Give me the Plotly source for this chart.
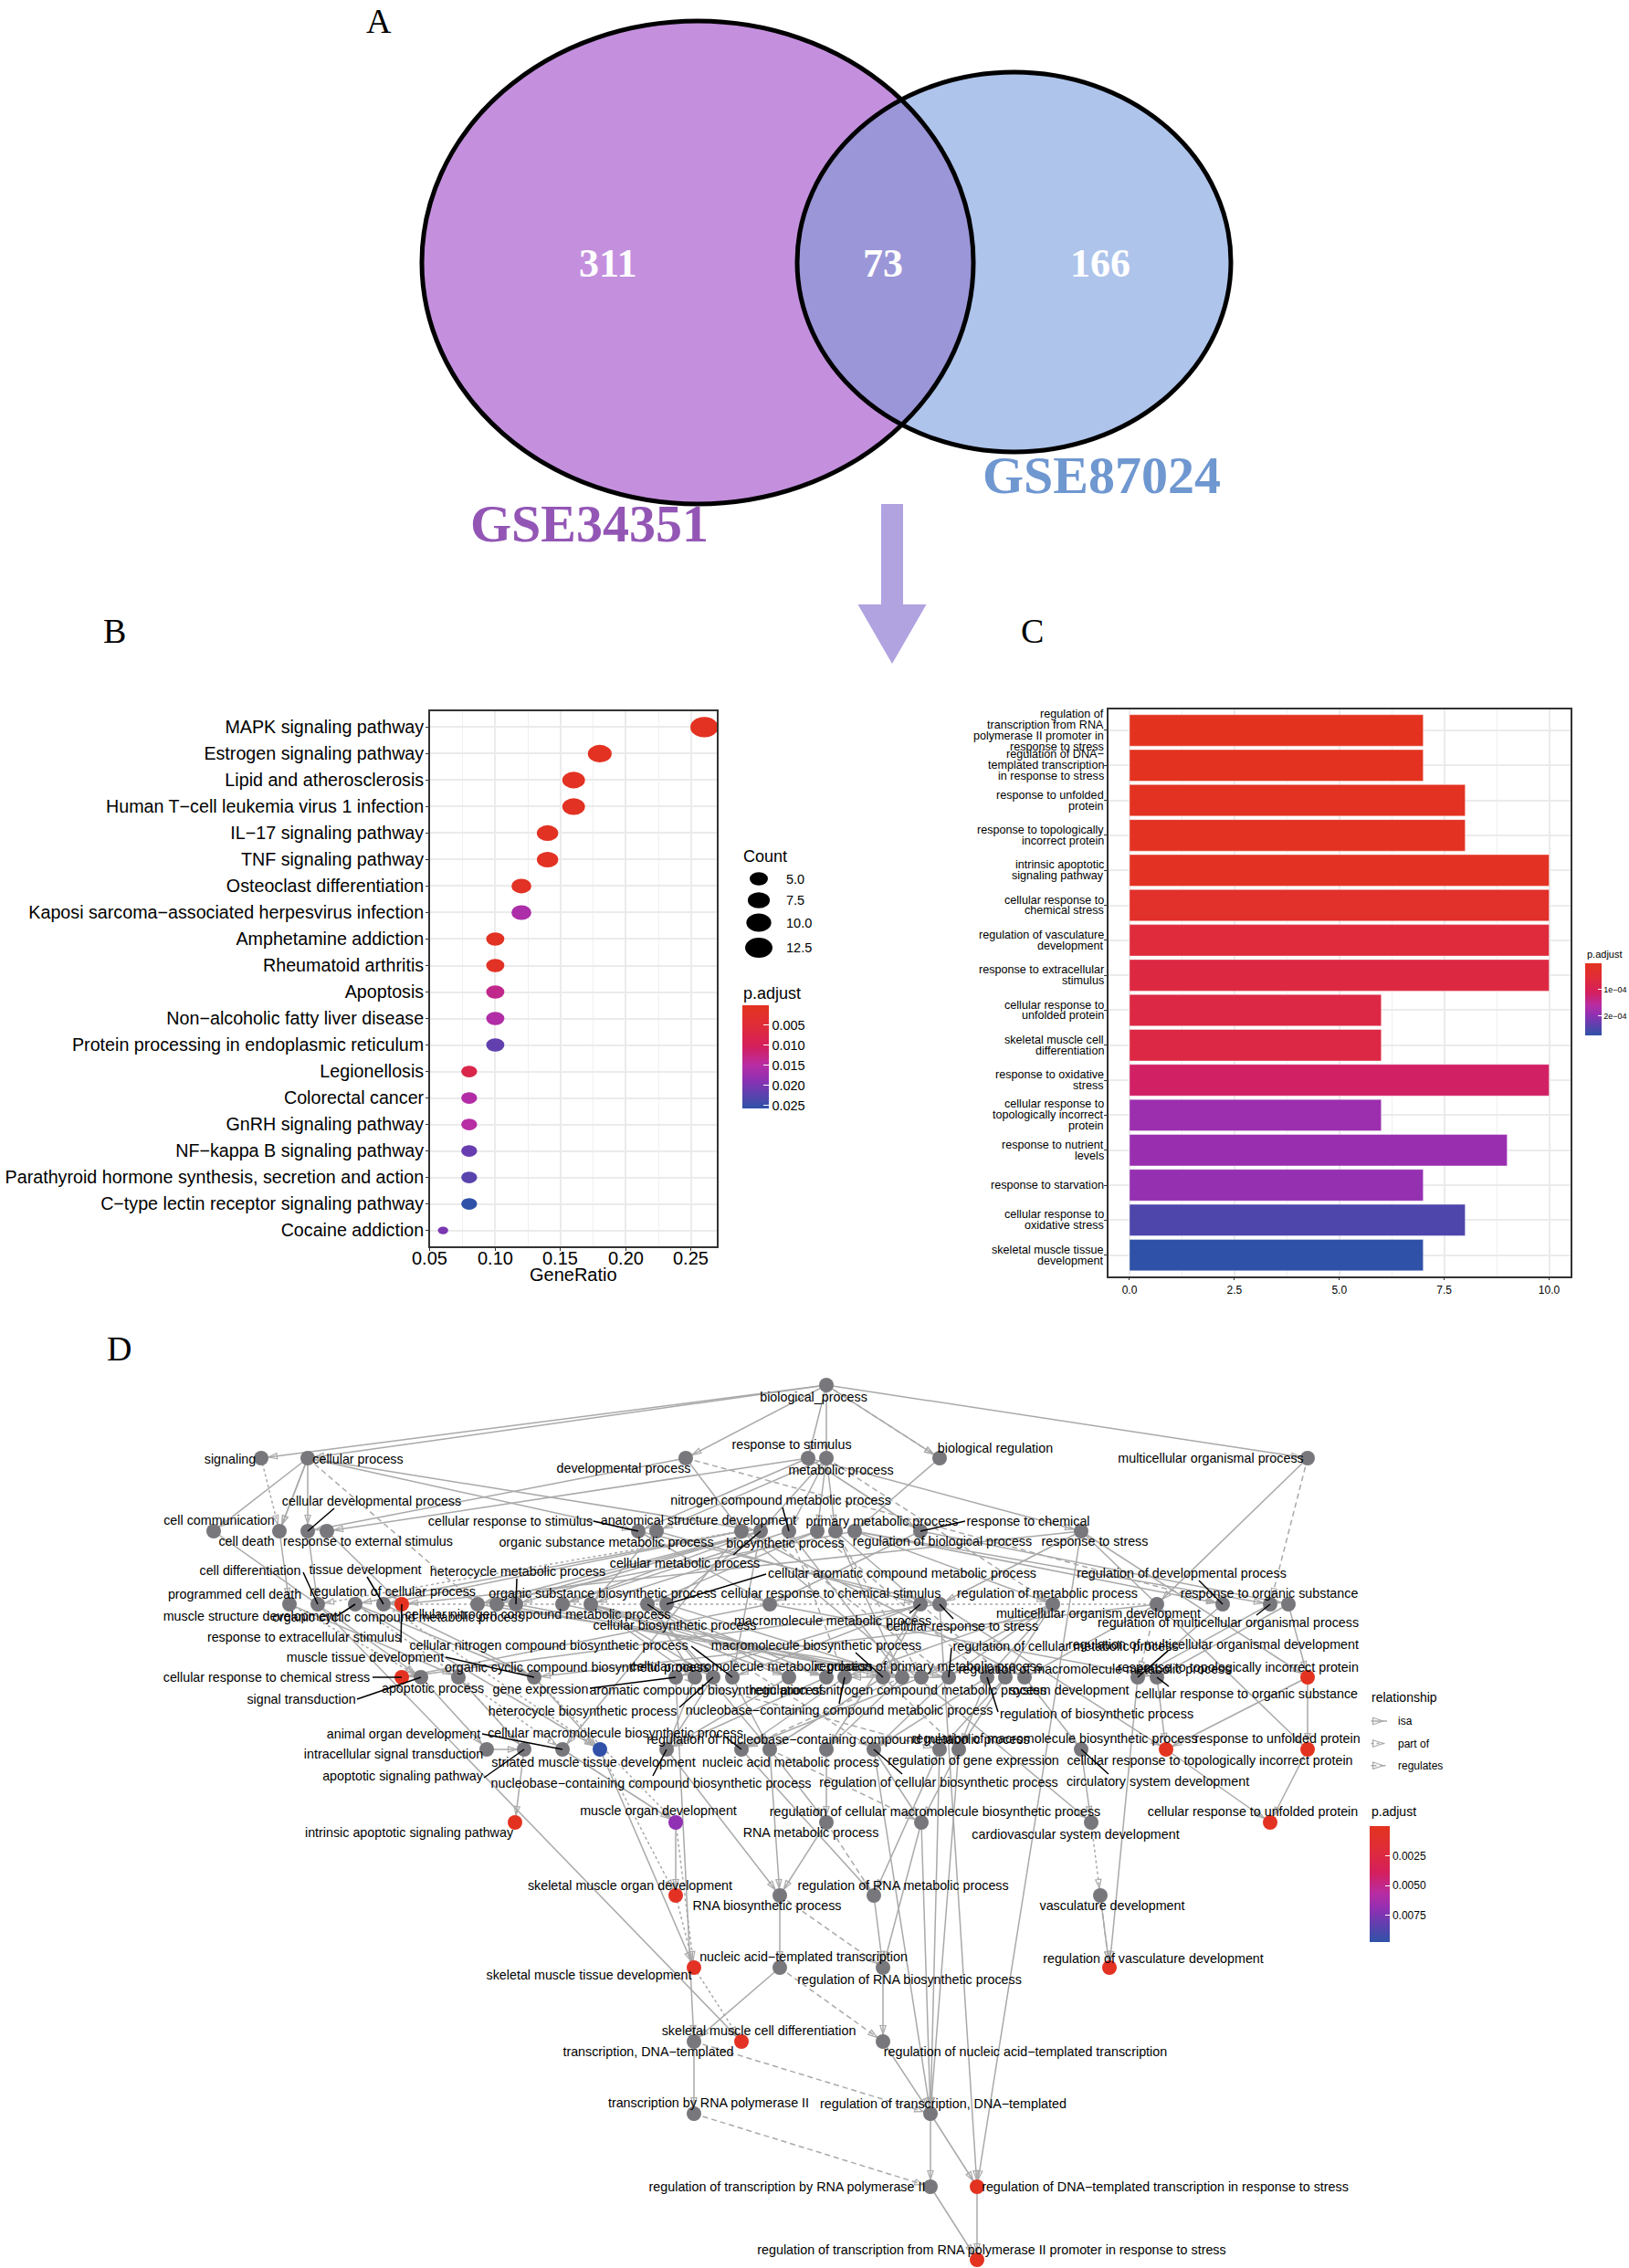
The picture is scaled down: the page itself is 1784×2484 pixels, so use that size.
import math
import numpy as np
import plotly.graph_objects as go
from plotly.colors import sample_colorscale

W, H = 1784, 2484
SANS = "Liberation Sans"
SERIF = "Liberation Serif"

PADJ_SCALE = [[0, "#E3331F"], [0.2, "#E02C38"], [0.4, "#D41F5C"], [0.58, "#B82DA3"],
              [0.72, "#8F30B3"], [0.85, "#6040AE"], [1, "#2F52A8"]]
# colour axes run on -p so that the colour bars read small values at the top, as in the source
PADJ_SCALE_NEG = [[1 - s, c] for s, c in reversed(PADJ_SCALE)]

# ---------- Panel A ----------
venn_counts = ["311", "73", "166"]
venn_names = ["GSE34351", "GSE87024"]

# ---------- Panel B ----------
kegg_terms = ["MAPK signaling pathway", "Estrogen signaling pathway", "Lipid and atherosclerosis",
              "Human T−cell leukemia virus 1 infection", "IL−17 signaling pathway", "TNF signaling pathway",
              "Osteoclast differentiation", "Kaposi sarcoma−associated herpesvirus infection",
              "Amphetamine addiction", "Rheumatoid arthritis", "Apoptosis", "Non−alcoholic fatty liver disease",
              "Protein processing in endoplasmic reticulum", "Legionellosis", "Colorectal cancer",
              "GnRH signaling pathway", "NF−kappa B signaling pathway",
              "Parathyroid hormone synthesis, secretion and action", "C−type lectin receptor signaling pathway",
              "Cocaine addiction"]
kegg_ratio = [0.26, 0.18, 0.16, 0.16, 0.14, 0.14, 0.12, 0.12, 0.10, 0.10, 0.10, 0.10, 0.10,
              0.08, 0.08, 0.08, 0.08, 0.08, 0.08, 0.06]
kegg_count = [13, 9, 8, 8, 7, 7, 6, 6, 5, 5, 5, 5, 5, 4, 4, 4, 4, 4, 4, 3]
kegg_padj = [0.0004, 0.0005, 0.0008, 0.0009, 0.001, 0.001, 0.0012, 0.016, 0.001, 0.0012, 0.0134, 0.0155, 0.0218,
             0.0077, 0.0154, 0.015, 0.0213, 0.0224, 0.0257, 0.020]
count_legend = [5.0, 7.5, 10.0, 12.5]
ratio_ticks = [0.05, 0.10, 0.15, 0.20, 0.25]

# ---------- Panel C ----------
go_terms = ["regulation of\ntranscription from RNA\npolymerase II promoter in\nresponse to stress",
            "regulation of DNA−\ntemplated transcription\nin response to stress",
            "response to unfolded\nprotein", "response to topologically\nincorrect protein",
            "intrinsic apoptotic\nsignaling pathway", "cellular response to\nchemical stress",
            "regulation of vasculature\ndevelopment", "response to extracellular\nstimulus",
            "cellular response to\nunfolded protein", "skeletal muscle cell\ndifferentiation",
            "response to oxidative\nstress", "cellular response to\ntopologically incorrect\nprotein",
            "response to nutrient\nlevels", "response to starvation",
            "cellular response to\noxidative stress", "skeletal muscle tissue\ndevelopment"]
go_count = [7, 7, 8, 8, 10, 10, 10, 10, 6, 6, 10, 6, 9, 7, 8, 7]
go_padj = [1e-6, 2e-6, 5e-6, 6e-6, 8e-6, 2.7e-5, 6e-5, 7e-5, 7.3e-5, 7.3e-5, 1.14e-4, 1.85e-4, 1.87e-4, 1.9e-4,
           2.45e-4, 2.72e-4]

# ---------- Panel D: GO graph ----------
node_keys = ["bp",
             "sig", "cp", "dev", "rs", "mp", "br", "mop",
             "cc", "cd", "cdp", "rex", "crs", "osm", "asd", "cmp", "ncm", "bio", "pmp", "rbp", "rch", "rst",
             "pcd", "cdf", "msd", "td", "rexs", "rcp", "occm", "hcm", "cncm", "osb", "cb", "cacm", "crcs", "mm",
             "crst", "rm", "mod", "rdp", "rmop", "ros",
             "crcst", "st", "ap", "mtd", "ge", "occb", "hcb", "cmm", "acb", "cncb", "rncm", "mb", "ncbm", "rpm",
             "rcm", "rb", "rmm", "sd", "rmod", "cros", "rtip",
             "ist", "asp", "aod", "smtd", "ncbb", "rncbm", "cmb", "nam", "rcb", "rge", "rmb", "csd", "crtip", "ruf",
             "iasp", "mud", "rnm", "rcmb", "cvd", "cruf",
             "smod", "rnb", "rrm", "vd",
             "smtid", "natt", "rrb", "rvd",
             "tdt", "smcd", "rnat",
             "trp", "rtdt",
             "rtrp", "rdtrs",
             "rtrps"]
node_labels = ["biological_process",
               "signaling", "cellular process", "developmental process", "response to stimulus", "metabolic process",
               "biological regulation", "multicellular organismal process",
               "cell communication", "cell death", "cellular developmental process", "response to external stimulus",
               "cellular response to stimulus", "organic substance metabolic process",
               "anatomical structure development", "cellular metabolic process", "nitrogen compound metabolic process",
               "biosynthetic process", "primary metabolic process", "regulation of biological process",
               "response to chemical", "response to stress",
               "programmed cell death", "cell differentiation", "muscle structure development", "tissue development",
               "response to extracellular stimulus", "regulation of cellular process",
               "organic cyclic compound metabolic process", "heterocycle metabolic process",
               "cellular nitrogen compound metabolic process", "organic substance biosynthetic process",
               "cellular biosynthetic process", "cellular aromatic compound metabolic process",
               "cellular response to chemical stimulus", "macromolecule metabolic process",
               "cellular response to stress", "regulation of metabolic process", "multicellular organism development",
               "regulation of developmental process", "regulation of multicellular organismal process",
               "response to organic substance",
               "cellular response to chemical stress", "signal transduction", "apoptotic process",
               "muscle tissue development", "gene expression", "organic cyclic compound biosynthetic process",
               "heterocycle biosynthetic process", "cellular macromolecule metabolic process",
               "aromatic compound biosynthetic process", "cellular nitrogen compound biosynthetic process",
               "regulation of nitrogen compound metabolic process", "macromolecule biosynthetic process",
               "nucleobase−containing compound metabolic process", "regulation of primary metabolic process",
               "regulation of cellular metabolic process", "regulation of biosynthetic process",
               "regulation of macromolecule metabolic process", "system development",
               "regulation of multicellular organismal development", "cellular response to organic substance",
               "response to topologically incorrect protein",
               "intracellular signal transduction", "apoptotic signaling pathway", "animal organ development",
               "striated muscle tissue development", "nucleobase−containing compound biosynthetic process",
               "regulation of nucleobase−containing compound metabolic process",
               "cellular macromolecule biosynthetic process", "nucleic acid metabolic process",
               "regulation of cellular biosynthetic process", "regulation of gene expression",
               "regulation of macromolecule biosynthetic process", "circulatory system development",
               "cellular response to topologically incorrect protein", "response to unfolded protein",
               "intrinsic apoptotic signaling pathway", "muscle organ development", "RNA metabolic process",
               "regulation of cellular macromolecule biosynthetic process", "cardiovascular system development",
               "cellular response to unfolded protein",
               "skeletal muscle organ development", "RNA biosynthetic process", "regulation of RNA metabolic process",
               "vasculature development",
               "skeletal muscle tissue development", "nucleic acid−templated transcription",
               "regulation of RNA biosynthetic process", "regulation of vasculature development",
               "transcription, DNA−templated", "skeletal muscle cell differentiation",
               "regulation of nucleic acid−templated transcription",
               "transcription by RNA polymerase II", "regulation of transcription, DNA−templated",
               "regulation of transcription by RNA polymerase II",
               "regulation of DNA−templated transcription in response to stress",
               "regulation of transcription from RNA polymerase II promoter in response to stress"]
node_x = [905,
          286, 337, 751, 885, 905, 1029, 1432,
          234, 306, 337, 358, 699, 719, 812, 833, 864, 895, 915, 936, 1008, 1184,
          317, 348, 389, 420, 440, 523, 544, 565, 616, 647, 709, 730, 843, 1008, 1029, 1153, 1267, 1339, 1391, 1411,
          440, 461, 502, 585, 740, 761, 781, 802, 864, 905, 925, 967, 988, 1009, 1039, 1081, 1101, 1122, 1246, 1267, 1432,
          533, 574, 616, 657, 730, 812, 843, 905, 957, 1029, 1050, 1184, 1277, 1432,
          564, 740, 905, 1009, 1195, 1391,
          740, 854, 957, 1205,
          760, 854, 967, 1215,
          760, 812, 967,
          760, 1019,
          1019, 1070,
          1070]
row_y = [1517, 1597, 1677, 1757, 1837, 1916, 1996, 2076, 2155, 2236, 2315, 2395, 2475]
row_sizes = [1, 7, 14, 20, 21, 14, 6, 4, 4, 3, 2, 2, 1]
label_x = [891,
           252, 392, 683, 867, 921, 1090, 1326,
           240, 270, 407, 403, 559, 664, 765, 750, 855, 860, 966, 1032, 1126, 1199,
           257, 274, 274, 400, 333, 430, 436, 567, 589, 660, 739, 988, 910, 912, 1054, 1147, 1203, 1294, 1345, 1390,
           292, 330, 474, 400, 592, 632, 638, 823, 775, 601, 984, 894, 919, 1017, 1167, 1201, 1199, 1171, 1329, 1365, 1356,
           431, 441, 442, 650, 713, 918, 674, 866, 1028, 1066, 1155, 1268, 1325, 1399,
           448, 721, 888, 1024, 1178, 1372,
           690, 840, 989, 1218,
           645, 880, 996, 1263,
           710, 831, 1123,
           776, 1033,
           862, 1276,
           1086]
label_y = [1531,
           1599, 1599, 1609, 1583, 1611, 1587, 1598,
           1666, 1689, 1645, 1689, 1667, 1690, 1666, 1713, 1644, 1691, 1667, 1689, 1667, 1689,
           1747, 1721, 1771, 1720, 1794, 1744, 1772, 1722, 1769, 1746, 1781, 1724, 1746, 1776, 1782, 1746, 1768, 1724, 1778, 1746,
           1838, 1862, 1850, 1816, 1851, 1827, 1875, 1826, 1852, 1803, 1852, 1803, 1874, 1826, 1804, 1878, 1829, 1852, 1802, 1856, 1827,
           1922, 1946, 1900, 1931, 1954, 1906, 1899, 1931, 1953, 1929, 1905, 1952, 1929, 1905,
           2008, 1984, 2008, 1985, 2010, 1985,
           2066, 2088, 2066, 2088,
           2164, 2144, 2169, 2146,
           2248, 2225, 2248,
           2304, 2305,
           2396, 2396,
           2465]

colored_nodes = ["rexs", "crcst", "rtip", "crtip", "ruf", "iasp", "cruf", "smod", "smtid", "rvd", "smcd",
                 "rdtrs", "rtrps", "smtd", "mud"]
colored_padj = [0.0001, 0.0001, 0.0001, 0.0001, 0.0001, 0.0001, 0.0002, 0.0003, 0.0003, 0.0002, 0.0003,
                0.0001, 0.0001, 0.0097, 0.0070]

leader_keys = ["cdp", "ncm", "crs", "rch", "cmp", "hcm", "cacm", "cdf", "td", "rdp", "msd", "cb", "mm", "crst", "rmop",
               "rexs", "mb", "rcm", "rmod", "mtd", "cmm", "crcst", "st", "ge", "hcb", "rncm", "cros", "rb", "aod",
               "rncbm", "asp", "ncbb", "rcb", "csd"]
leader_from_x = [366, 857, 650, 1057, 803, 566, 839, 332, 402, 1313, 369, 732, 996, 1044, 1376,
                 439, 937, 1042, 1279, 488, 757, 408, 391, 646, 744, 919, 1280, 1093, 528,
                 794, 530, 715, 988, 1214]
leader_from_y = [1652, 1651, 1666, 1666, 1703, 1729, 1724, 1722, 1727, 1731, 1770, 1773, 1767, 1773, 1769,
                 1799, 1810, 1805, 1808, 1815, 1803, 1837, 1861, 1849, 1870, 1866, 1847, 1875, 1899,
                 1902, 1947, 1945, 1943, 1943]

edges_isa = """bp sig;bp cp;bp dev;bp rs;bp mp;bp br;bp mop;cp cc;cp cd;cp cdp;cp crs;cp cmp;cp cd;dev asd;dev cdp;
rs crs;rs rex;rs rch;rs rst;mp osm;mp ncm;mp bio;mp pmp;mp cmp;br rbp;mop mod;cc st;cd pcd;pcd ap;cdp cdf;asd td;asd msd;
asd aod;asd sd;td mtd;msd mtd;msd smtd;mtd smtd;aod mud;mud smod;smtd smtid;cdf smcd;st ist;ist asp;ap asp;asp iasp;
rbp rcp;rbp rdp;rbp rmop;rbp rm;rcp rcm;rm rcm;rm rpm;rm rb;rm rmm;rm rncm;rcm rncm;rcm rcb;rb rcb;rb rmb;rmm rge;rmm rmb;
rpm rncbm;rncm rncbm;rncbm rrm;rge rrm;rrm rrb;rrb rnat;rnat rtdt;rtdt rtrp;rtrp rtrps;rtdt rdtrs;rdtrs rtrps;rmb rcmb;
rcb rcmb;rcmb rrb;rdp rmod;rmop rmod;rmod rvd;osm mm;osm osb;ncm cncm;ncm ncbm;pmp mm;pmp ncbm;cmp cncm;cmp occm;cmp hcm;
cmp cacm;cmp cmm;occm ncbm;hcm ncbm;cacm ncbm;cncm ncbm;mm cmm;mm ge;mm nam;mm mb;cmm cmb;ncbm nam;nam rnm;rnm rnb;rnb natt;
natt tdt;tdt trp;ge tdt;bio osb;bio cb;osb occb;osb hcb;osb acb;osb cncb;osb mb;cb occb;cb hcb;cb acb;cb cncb;cb cmb;mb cmb;
cncb ncbb;acb ncbb;hcb ncbb;occb ncbb;ncbb rnb;cmb rnb;rch crcs;rch ros;rst crst;rst rexs;rex rexs;crs crcs;crs crst;
crst crcst;crcs crcst;ros cros;crcs cros;rst rtip;rst ruf;ros rtip;rtip ruf;rtip crtip;crtip cruf;ruf cruf;cros crtip;
crst crtip;crst rdtrs;rst rdtrs;rmb rtdt;rcmb rtdt;rcb rtdt;rge rtdt;sd csd;csd cvd;vd rvd;asd cvd;mod mtd;mod sd;cmb rnm;cmp rcp"""
edges_part = """sig cd;cvd vd;mtd mud;smtd smod;smod smtid;smtid smcd;mud smtid;asp ap;td smtd;pcd st;msd aod;asd cdf;mod td"""
edges_reg = """bp br;dev rdp;cp rcp;mp rm;bio rb;pmp rpm;mm rmm;cmp rcm;ncm rncm;ncbm rncbm;cb rcb;mb rmb;cmb rcmb;
rnm rrm;rnb rrb;natt rnat;tdt rtdt;trp rtrp;mod rmod;mop rmop;ge rge;vd rvd"""


# ---------- helpers ----------
def px_x(v):
    return v / W


def px_y(v):
    return 1 - v / H


node_y = []
for ry, n in zip(row_y, row_sizes):
    node_y += [ry] * n
assert len(node_keys) == len(node_labels) == len(node_x) == len(node_y) == len(label_x) == len(label_y)
pos = {k: (x, y) for k, x, y in zip(node_keys, node_x, node_y)}


def parse_edges(txt):
    return [tuple(e.split()) for e in txt.replace("\n", "").split(";") if e.strip()]


def padj_colors(vals, vmin, vmax):
    return sample_colorscale(PADJ_SCALE, [(v - vmin) / (vmax - vmin) for v in vals], colortype="rgb")


def size_unit(c):
    return 3 + 5 * math.sqrt(max(c - 3, 0) / 10)


def neg(vals):
    return [-v for v in vals]


fig = go.Figure()
shapes = []
ann = []
PAGE = dict(xref="x3", yref="y3")


def text(x, y, s, size, color="black", family=SANS, xanchor="center"):
    ann.append(dict(**PAGE, x=x, y=y, text=s, showarrow=False, xanchor=xanchor, yanchor="middle",
                    font=dict(size=size, color=color, family=family)))


# ---------- Panel A: venn ----------
L = (764, 287.5, 302, 264.5)
R = (1110.5, 287, 237.5, 208)
t = np.linspace(0, 2 * np.pi, 721)
lp = np.c_[L[0] + L[2] * np.cos(t), L[1] + L[3] * np.sin(t)]
rp = np.c_[R[0] + R[2] * np.cos(t), R[1] + R[3] * np.sin(t)]
in_l = ((rp[:, 0] - L[0]) / L[2]) ** 2 + ((rp[:, 1] - L[1]) / L[3]) ** 2 <= 1
in_r = ((lp[:, 0] - R[0]) / R[2]) ** 2 + ((lp[:, 1] - R[1]) / R[3]) ** 2 <= 1
a = rp[in_l]
b = lp[in_r]
a = a[np.argsort(a[:, 1])]
b = b[np.argsort(-b[:, 1])]
lens = np.r_[a, b]
lens_path = "M" + " L".join(f"{x:.1f},{y:.1f}" for x, y in lens) + " Z"


def ell(e, **kw):
    return dict(type="circle", **PAGE, x0=e[0] - e[2], x1=e[0] + e[2], y0=e[1] - e[3], y1=e[1] + e[3], **kw)


shapes += [ell(L, fillcolor="#C490DE", line_width=0),
           ell(R, fillcolor="#AEC4EB", line_width=0),
           dict(type="path", **PAGE, path=lens_path, fillcolor="#9B96D8", line_width=0),
           ell(L, line=dict(color="black", width=5)),
           ell(R, line=dict(color="black", width=5)),
           dict(type="path", **PAGE, path="M965,552 L989,552 L989,662 L1014.5,662 L977,727 L939.5,662 L965,662 Z",
                fillcolor="#B0A3E0", line_width=0)]
for x, s in zip([666, 967, 1205], venn_counts):
    text(x, 288, f"<b>{s}</b>", 44, "white", SERIF)
text(645, 573, f"<b>{venn_names[0]}</b>", 58, "#9356B5", SERIF)
text(1206, 520, f"<b>{venn_names[1]}</b>", 58, "#6F97D0", SERIF)
for (x, y), s in zip([(415, 23), (125, 691), (1130, 691), (130, 1477)], "ABCD"):
    text(x, y, s, 38, "black", SERIF)

# ---------- Panel B ----------
kegg_y = list(range(len(kegg_terms)))
b_min, b_max = 0.0, 0.0257
b_ticks = [0.005, 0.01, 0.015, 0.02, 0.025]
fig.add_trace(go.Scatter(x=kegg_ratio, y=kegg_y, mode="markers", xaxis="x", yaxis="y", showlegend=False,
                         marker=dict(size=[3.8 * size_unit(c) * 0.733 for c in kegg_count], color=neg(kegg_padj),
                                     colorscale=PADJ_SCALE_NEG, cmin=-b_max, cmax=-b_min,
                                     colorbar=dict(x=px_x(813), xanchor="left", y=px_y(1101), yanchor="top",
                                                   thickness=28.5, thicknessmode="pixels", len=113, lenmode="pixels",
                                                   xpad=0, ypad=0, outlinewidth=0,
                                                   tickvals=neg(b_ticks),
                                                   ticktext=[f"{v:.3f}" for v in b_ticks],
                                                   ticks="inside", ticklen=6, tickcolor="white", tickwidth=1,
                                                   tickfont=dict(size=14.5, family=SANS, color="black")))))
for xv, yv, c, col in zip(kegg_ratio, kegg_y, kegg_count, padj_colors(kegg_padj, b_min, b_max)):
    w = 3.8 * size_unit(c)
    h = w * 0.733
    shapes.append(dict(type="circle", xref="x", yref="y", xsizemode="pixel", ysizemode="pixel", xanchor=xv, yanchor=yv,
                       x0=-w / 2, x1=w / 2, y0=-h / 2, y1=h / 2, fillcolor=col, line_width=0))
text(812, 938, "Count", 18, xanchor="left")
text(812, 1088, "p.adjust", 18, xanchor="left")
for c, ly in zip(count_legend, [962.5, 986, 1010.5, 1038]):
    w = 3.8 * size_unit(c)
    h = w * 0.733
    shapes.append(dict(type="circle", **PAGE, x0=831 - w / 2, x1=831 + w / 2, y0=ly - h / 2, y1=ly + h / 2,
                       fillcolor="black", line_width=0))
    text(859, ly, f"{c:.1f}", 14.5, xanchor="left")
for v in ratio_ticks:
    ann.append(dict(xref="x", yref="y3", x=v, y=1378, text=f"{v:.2f}", showarrow=False, xanchor="center",
                    yanchor="middle", font=dict(size=20, family=SANS, color="black")))
text(628, 1396, "GeneRatio", 20)

# ---------- Panel C ----------
go_y = list(range(len(go_terms)))
c_min, c_max = 0.0, 2.72e-4
fig.add_trace(go.Bar(x=go_count, y=go_y, orientation="h", xaxis="x2", yaxis="y2", width=0.9, showlegend=False,
                     marker=dict(color=neg(go_padj), colorscale=PADJ_SCALE_NEG, cmin=-c_max, cmax=-c_min,
                                 line=dict(color="rgba(255,255,255,0.4)", width=1),
                                 colorbar=dict(x=px_x(1736), xanchor="left", y=px_y(1054.6), yanchor="top",
                                               thickness=18, thicknessmode="pixels", len=79, lenmode="pixels",
                                               xpad=0, ypad=0, outlinewidth=0, tickvals=neg([1e-4, 2e-4]),
                                               ticktext=["1e−04", "2e−04"], ticks="inside", ticklen=4,
                                               tickcolor="white", tickwidth=1,
                                               tickfont=dict(size=9, family=SANS, color="black")))))
for i, term in zip(go_y, go_terms):
    lines = term.split("\n")
    for j, ln in enumerate(lines):
        ann.append(dict(xref="paper", yref="y2", x=px_x(1211), y=i, text=ln, showarrow=False, xanchor="right",
                        yanchor="middle", yshift=-(j - (len(lines) - 1) / 2) * 11.9,
                        font=dict(size=12.6, family=SANS, color="black")))
text(1736, 1045, "p.adjust", 11, xanchor="left")

# ---------- Panel D ----------
EDGE_GREY = "#A9A9A9"


def edge_trace(pairs, dash, width):
    ex, ey, ax, ay, ang = [], [], [], [], []
    for s, d in pairs:
        x0, y0 = pos[s]
        x1, y1 = pos[d]
        ln = math.hypot(x1 - x0, y1 - y0)
        ux, uy = (x1 - x0) / ln, (y1 - y0) / ln
        ex += [x0, x1, None]
        ey += [y0, y1, None]
        ax.append(x1 - ux * 8)
        ay.append(y1 - uy * 8)
        ang.append(math.degrees(math.atan2(ux, -uy)))
    fig.add_trace(go.Scatter(x=ex, y=ey, mode="lines", xaxis="x3", yaxis="y3", showlegend=False, hoverinfo="skip",
                             line=dict(color=EDGE_GREY, width=width, dash=dash)))
    fig.add_trace(go.Scatter(x=ax, y=ay, mode="markers", xaxis="x3", yaxis="y3", showlegend=False, hoverinfo="skip",
                             marker=dict(symbol="arrow-open", size=10, angle=ang, color=EDGE_GREY,
                                         line=dict(color=EDGE_GREY, width=1.2))))


edge_trace(parse_edges(edges_isa), "solid", 1.5)
edge_trace(parse_edges(edges_part), "dot", 1.5)
edge_trace(parse_edges(edges_reg), "6px,4px", 1.5)

grey = [k for k in node_keys if k not in colored_nodes]
fig.add_trace(go.Scatter(x=[pos[k][0] for k in grey], y=[pos[k][1] for k in grey], mode="markers", xaxis="x3",
                         yaxis="y3", showlegend=False, marker=dict(size=16, color="#78787C")))
d_ticks = [0.0025, 0.005, 0.0075]
fig.add_trace(go.Scatter(x=[pos[k][0] for k in colored_nodes], y=[pos[k][1] for k in colored_nodes], mode="markers",
                         xaxis="x3", yaxis="y3", showlegend=False,
                         marker=dict(size=16, color=neg(colored_padj), colorscale=PADJ_SCALE_NEG, cmin=-0.00975, cmax=0,
                                     colorbar=dict(x=px_x(1500), xanchor="left", y=px_y(2000), yanchor="top",
                                                   thickness=22, thicknessmode="pixels", len=126.5, lenmode="pixels",
                                                   xpad=0, ypad=0, outlinewidth=0, tickvals=neg(d_ticks),
                                                   ticktext=[f"{v:.4f}" for v in d_ticks], ticks="inside", ticklen=5,
                                                   tickcolor="white", tickwidth=1,
                                                   tickfont=dict(size=12, family=SANS, color="black")))))
lx, ly = [], []
for k, fx, fy in zip(leader_keys, leader_from_x, leader_from_y):
    lx += [fx, pos[k][0], None]
    ly += [fy, pos[k][1], None]
fig.add_trace(go.Scatter(x=lx, y=ly, mode="lines", xaxis="x3", yaxis="y3", showlegend=False, hoverinfo="skip",
                         line=dict(color="black", width=1.5)))
fig.add_trace(go.Scatter(x=label_x, y=label_y, mode="text", text=node_labels, textposition="middle center",
                         xaxis="x3", yaxis="y3", showlegend=False, hoverinfo="skip",
                         textfont=dict(size=14.3, family=SANS, color="black")))

# relationship legend
text(1499.5, 1859, "relationship", 14, xanchor="left")
for s, ly_, dash in zip(["isa", "part of", "regulates"], [1885, 1909.5, 1933.7], ["solid", "dot", "6px,4px"]):
    fig.add_trace(go.Scatter(x=[1501.5, 1519], y=[ly_, ly_], mode="lines", xaxis="x3", yaxis="y3", showlegend=False,
                             hoverinfo="skip", line=dict(color=EDGE_GREY, width=1.5, dash=dash)))
    fig.add_trace(go.Scatter(x=[1515], y=[ly_], mode="markers", xaxis="x3", yaxis="y3", showlegend=False,
                             hoverinfo="skip", marker=dict(symbol="arrow-open", size=12, angle=90, color=EDGE_GREY,
                                                           line=dict(color=EDGE_GREY, width=1.2))))
    text(1528.5, ly_, s, 12, xanchor="left")
text(1499.5, 1984, "p.adjust", 14, xanchor="left")

# ---------- Layout ----------
AX = dict(showline=True, mirror=True, linecolor="#333333", linewidth=1.6, zeroline=False, gridcolor="#EBEBEB",
          gridwidth=1.5, ticks="outside", ticklen=3, tickcolor="#333333", tickwidth=1)
fig.update_layout(
    width=W, height=H, margin=dict(l=0, r=0, t=0, b=0, autoexpand=False), paper_bgcolor="white",
    plot_bgcolor="rgba(0,0,0,0)",
    showlegend=False, font=dict(family=SANS), shapes=shapes, annotations=ann, barmode="overlay",
    xaxis=dict(**AX, anchor="y", domain=[470.9 / W, 785 / W], range=[0.05, 0.2696],
               tickvals=ratio_ticks, showticklabels=False,
               minor=dict(tickvals=[0.075, 0.125, 0.175, 0.225], showgrid=True, gridcolor="#F0F0F0", gridwidth=1, ticks="")),
    yaxis=dict(**AX, anchor="x", domain=[1 - 1365 / H, 1 - 779 / H], range=[len(kegg_terms) - 0.4, -0.6],
               tickvals=kegg_y, ticktext=kegg_terms, tickfont=dict(size=19.7, color="black"), ticklabelstandoff=-2),
    xaxis2=dict(**AX, anchor="y2", domain=[1214 / W, 1719.5 / W], range=[-0.5, 10.5], tickvals=[0, 2.5, 5, 7.5, 10],
                ticktext=["0.0", "2.5", "5.0", "7.5", "10.0"], tickfont=dict(size=12, color="black"),
                minor=dict(tickvals=[1.25, 3.75, 6.25, 8.75], showgrid=True, gridcolor="#F0F0F0", gridwidth=1, ticks="")),
    yaxis2=dict(**AX, anchor="x2", domain=[1 - 1397.6 / H, 1 - 777 / H], range=[len(go_terms) - 0.4, -0.6],
                tickvals=go_y, showticklabels=False),
    xaxis3=dict(anchor="y3", domain=[0, 1], range=[0, W], visible=False, fixedrange=True),
    yaxis3=dict(anchor="x3", domain=[0, 1], range=[H, 0], visible=False, fixedrange=True),
)

fig.write_html("out.html", config={"displayModeBar": False}, post_script="document.body.style.margin='0';")
